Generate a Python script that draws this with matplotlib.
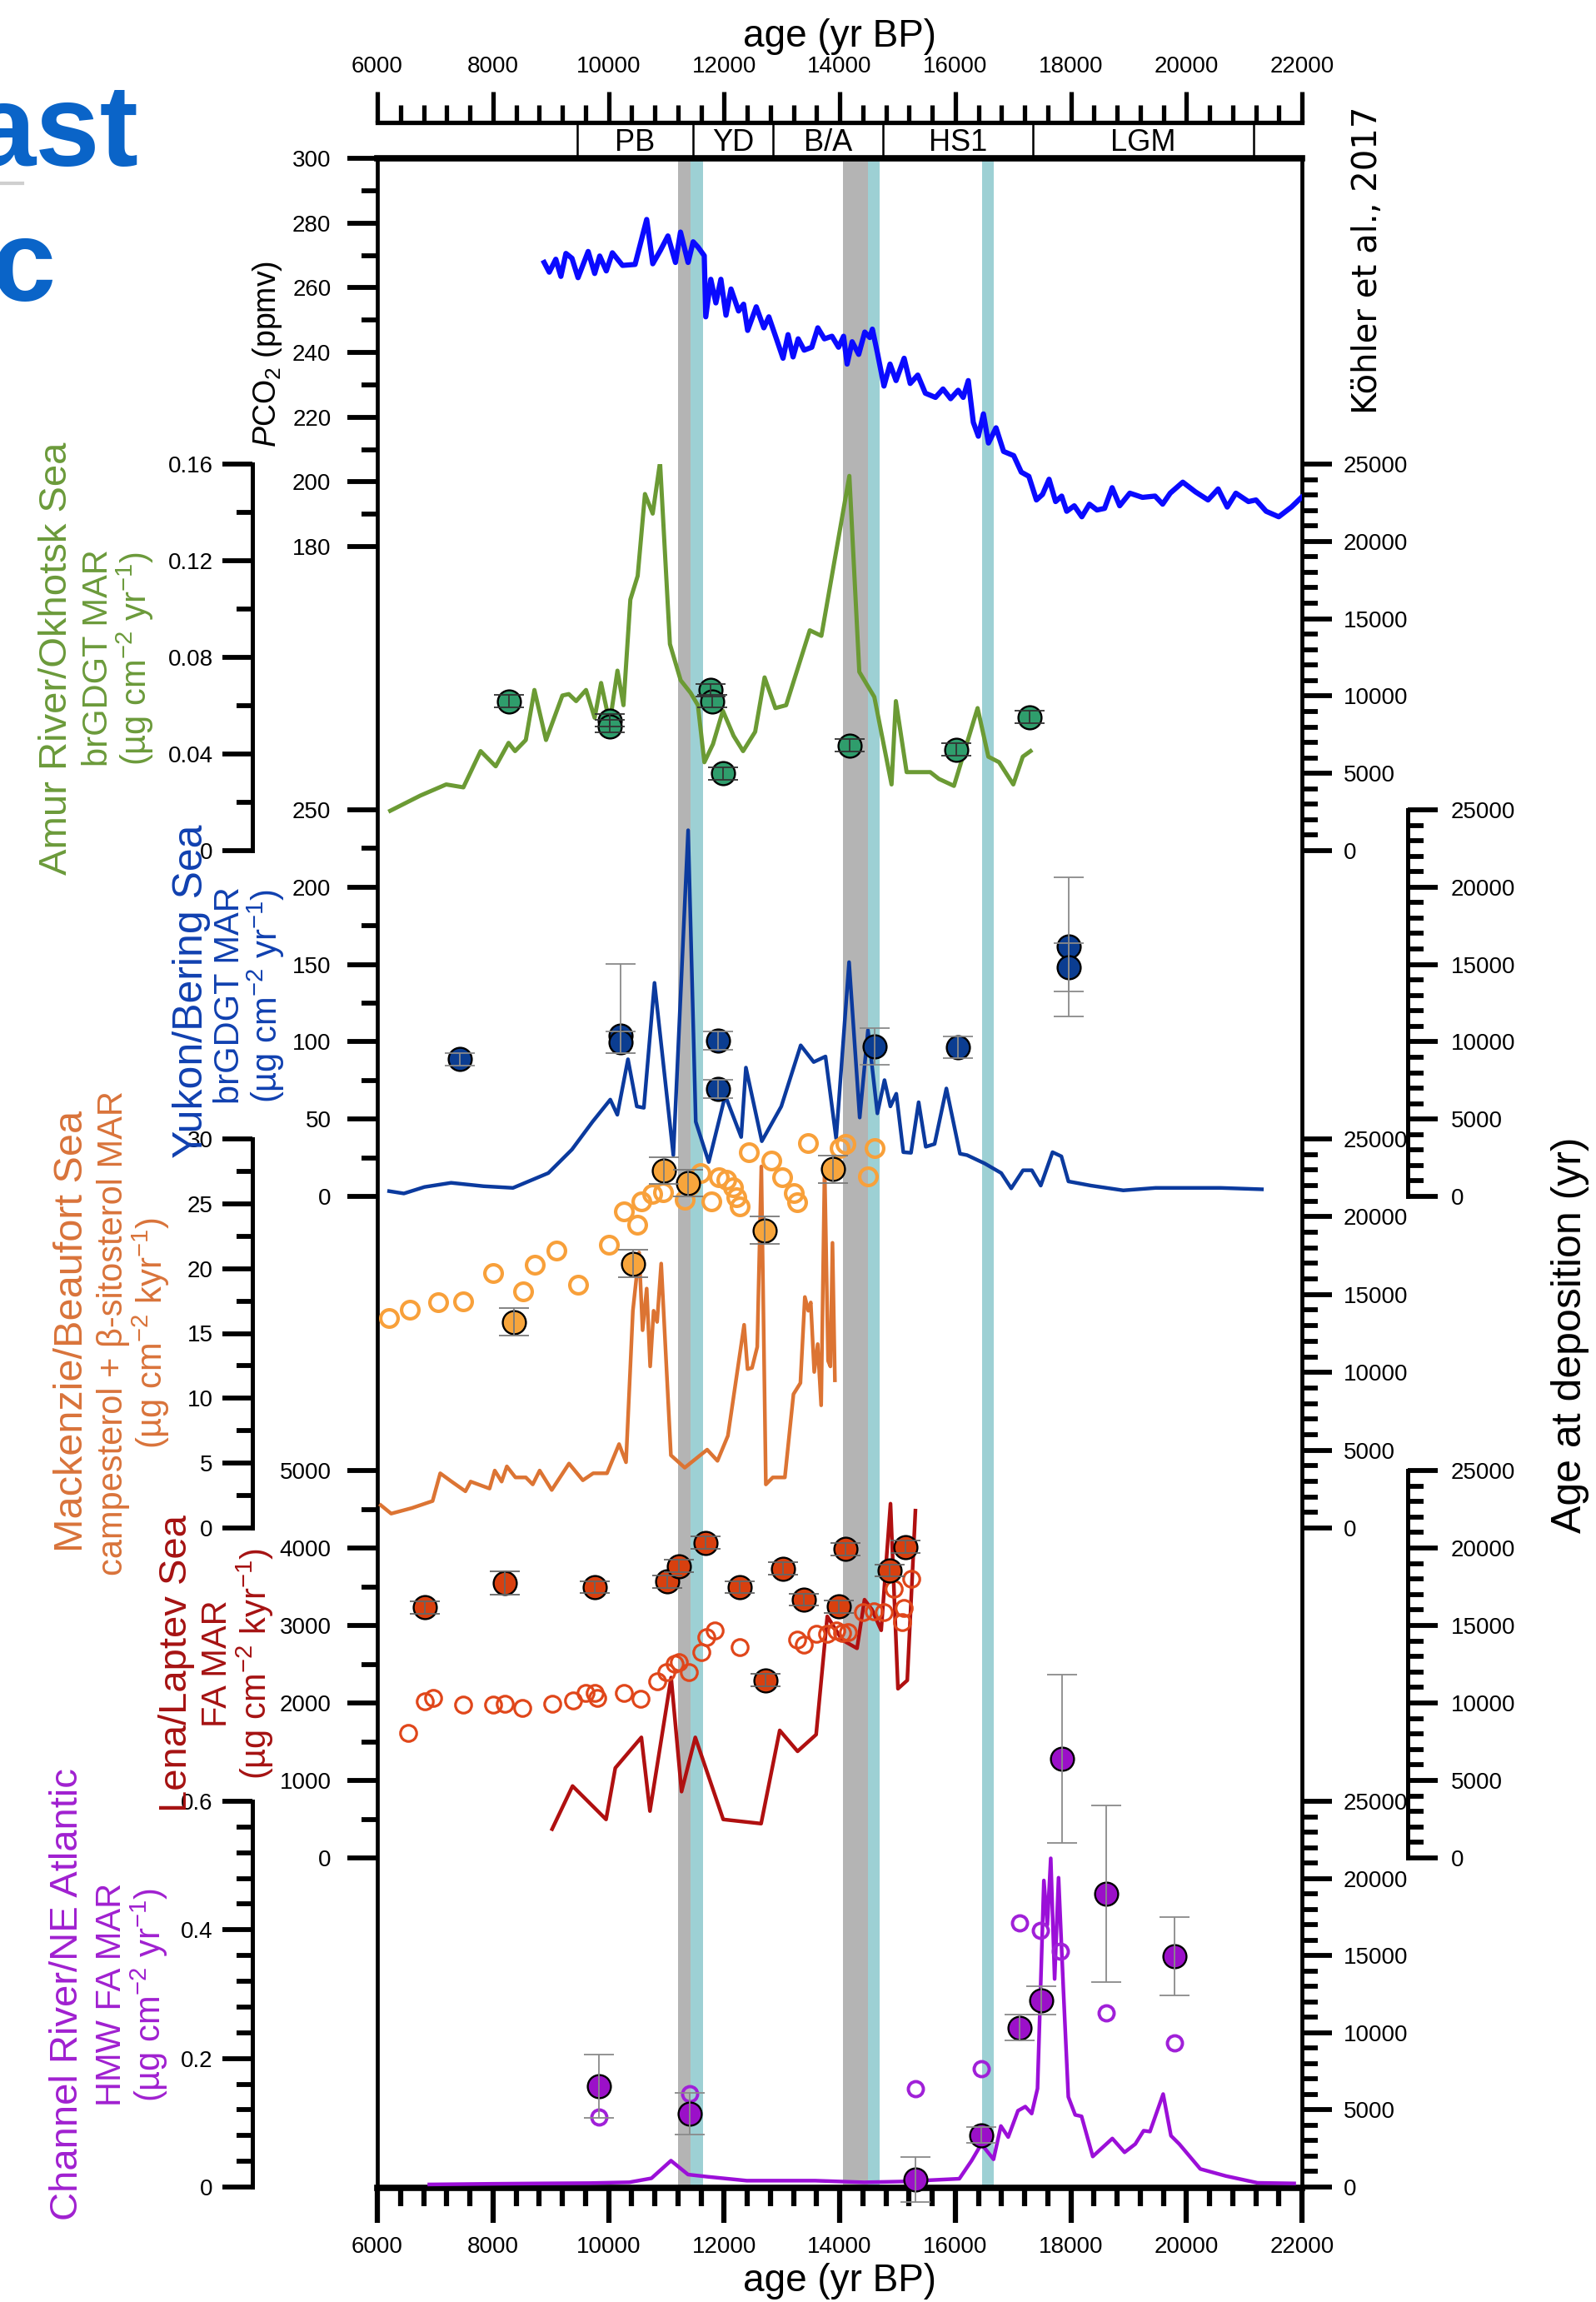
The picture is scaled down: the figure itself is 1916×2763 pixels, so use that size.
import matplotlib
matplotlib.use("Agg")
import matplotlib.pyplot as plt
from matplotlib.ticker import MultipleLocator, FuncFormatter

W, H, DPI = 1916, 2763, 100
X_LEFT, X_RIGHT = 453, 1563          # main frame in pixels
AGE_MIN, AGE_MAX = 6000, 22000

NARROW = ['Liberation Sans Narrow', 'Liberation Sans', 'DejaVu Sans']
SANS = ['Liberation Sans', 'DejaVu Sans']
plt.rcParams['font.family'] = NARROW
plt.rcParams['mathtext.fontset'] = 'custom'
plt.rcParams['mathtext.rm'] = 'Liberation Sans'
plt.rcParams['mathtext.it'] = 'Liberation Sans:italic'
plt.rcParams['mathtext.bf'] = 'Liberation Sans:bold'

# ---------------- data ----------------
gray_bands = [(11200, 11415), (14060, 14490)]
cyan_bands = [(11415, 11638), (14490, 14695), (16462, 16667)]
period_bounds = [9455, 11463, 12847, 14750, 17344, 21164]
period_names = ['PB', 'YD', 'B/A', 'HS1', 'LGM']

co2_age = [8887, 8975, 9088, 9176, 9263, 9368, 9473, 9648, 9761, 9848, 9962, 10067, 10242, 10460,
           10661, 10766, 10897, 11028, 11159, 11246, 11377, 11465, 11552, 11657, 11683, 11770, 11858,
           11945, 12033, 12120, 12251, 12338, 12408, 12557, 12688, 12775, 12906, 13020, 13107, 13194,
           13282, 13386, 13518, 13622, 13736, 13867, 13981, 14068, 14129, 14216, 14330, 14435, 14522,
           14566, 14653, 14767, 14872, 14976, 15116, 15221, 15352, 15483, 15658, 15789, 15920, 16051,
           16138, 16226, 16313, 16400, 16488, 16575, 16706, 16837, 17012, 17143, 17274, 17405, 17510,
           17624, 17737, 17842, 17929, 18060, 18191, 18322, 18453, 18585, 18715, 18846, 19021, 19240,
           19458, 19589, 19720, 19938, 20157, 20375, 20550, 20707, 20856, 21074, 21205, 21380, 21598,
           21817, 21991]
co2_ppm = [267.8, 264.8, 268.8, 263.5, 270.6, 269.1, 263.1, 271.2, 264.4, 269.8, 265.2, 270.8, 266.9,
           267.2, 281.1, 267.4, 271.5, 276.0, 267.8, 277.2, 267.8, 274.2, 272.5, 269.9, 251.0, 262.6,
           255.3, 262.6, 251.5, 259.6, 252.8, 254.9, 246.8, 254.1, 247.6, 251.0, 244.2, 238.2, 245.5,
           238.6, 244.2, 240.7, 241.6, 247.6, 244.2, 245.0, 241.6, 245.0, 236.4, 243.3, 239.4, 246.3,
           244.6, 247.2, 239.9, 229.6, 236.4, 231.3, 238.2, 230.4, 233.0, 227.4, 226.1, 228.7, 225.7,
           228.3, 226.1, 231.3, 218.4, 214.1, 221.0, 212.0, 216.7, 209.4, 208.1, 203.0, 201.7, 194.4,
           196.1, 200.8, 193.9, 195.6, 190.9, 192.6, 189.2, 193.1, 191.3, 191.8, 198.2, 192.6, 196.5,
           195.2, 195.6, 193.1, 196.5, 199.9, 196.9, 194.4, 197.8, 192.2, 196.5, 193.9, 194.4, 190.9,
           189.2, 192.2, 195.2]

amur_age = [6223, 6745, 7191, 7489, 7787, 8048, 8271, 8383, 8569, 8718, 8919, 9202, 9313, 9440, 9611,
            9760, 9872, 10021, 10155, 10259, 10378, 10505, 10631, 10765, 10892, 11063, 11249, 11421,
            11547, 11659, 11808, 11979, 12165, 12329, 12538, 12701, 12888, 13074, 13483, 13684, 14168,
            14340, 14600, 14898, 14973, 15159, 15568, 15717, 15978, 16387, 16573, 16759, 17005, 17169,
            17303]
amur_mar = [0.0165, 0.0228, 0.0274, 0.0262, 0.0412, 0.0349, 0.0446, 0.0412, 0.0458, 0.0665, 0.0458,
            0.0642, 0.0648, 0.0619, 0.0665, 0.0550, 0.0694, 0.0527, 0.0745, 0.0602, 0.1039, 0.1137,
            0.1476, 0.1395, 0.1608, 0.0855, 0.0705, 0.0653, 0.0602, 0.0366, 0.0441, 0.0579, 0.0475,
            0.0412, 0.0492, 0.0717, 0.0590, 0.0602, 0.0912, 0.0889, 0.1551, 0.0740, 0.0636, 0.0274,
            0.0619, 0.0325, 0.0325, 0.0297, 0.0268, 0.0590, 0.0389, 0.0366, 0.0274, 0.0389, 0.0412]
amur_pt_age = [8271, 10021, 10021, 11771, 11793, 11979, 14176, 16015, 17281]
amur_pt_dep = [9671, 8413, 8053, 10391, 9671, 4997, 6795, 6525, 8646]
amur_pt_err = [400, 400, 400, 400, 400, 400, 400, 400, 400]

yuk_age = [6204, 6459, 6816, 7276, 7837, 8347, 8959, 9367, 9724, 10031, 10153, 10337, 10490, 10612,
           10796, 11122, 11378, 11510, 11735, 12020, 12296, 12378, 12653, 12990, 13326, 13551, 13755,
           13939, 14163, 14347, 14490, 14653, 14776, 14878, 14980, 15102, 15235, 15367, 15490, 15643,
           15847, 16082, 16204, 16510, 16796, 16969, 17173, 17326, 17480, 17684, 17837, 17959, 18347,
           18908, 19469, 20592, 21306]
yuk_mar = [3.4, 1.9, 6.1, 8.8, 6.6, 5.5, 15.1, 30.3, 48.3, 62.6, 52.8, 88.7, 58.2, 57.3, 138.1, 26.7,
           236.8, 48.3, 22.2, 65.3, 38.4, 83.3, 35.7, 58.2, 97.7, 86.9, 90.5, 37.5, 151.5, 51.0, 107.5,
           53.7, 75.2, 58.2, 66.4, 28.6, 28.2, 60.9, 32.1, 33.9, 69.8, 27.6, 26.7, 21.3, 15.1, 5.2, 16.9,
           16.9, 7.0, 28.6, 25.9, 9.7, 7.0, 3.9, 5.5, 5.5, 4.6]
yuk_pt_age = [7429, 10204, 10204, 11898, 11898, 14602, 16051, 17970, 17970]
yuk_pt_dep = [8868, 10398, 9946, 10073, 6949, 9675, 9643, 16140, 14793]
yuk_err_lo = [400, 1130, 700, 600, 600, 1155, 700, 4490, 1560]
yuk_err_hi = [400, 4610, 700, 600, 600, 1235, 700, 4490, 1560]

mac_age = [6060, 6239, 6598, 6956, 7088, 7285, 7524, 7614, 7942, 8032, 8151, 8241, 8390, 8570, 8689,
           8809, 9018, 9317, 9556, 9735, 9974, 10183, 10303, 10422, 10530, 10590, 10661, 10721, 10781,
           10841, 10912, 11080, 11319, 11707, 11886, 12066, 12347, 12406, 12484, 12574, 12645, 12723,
           12843, 13052, 13201, 13321, 13398, 13458, 13500, 13560, 13620, 13680, 13740, 13800, 13840,
           13876, 13918]
mac_mar = [1.76, 1.11, 1.54, 2.08, 4.22, 3.58, 2.83, 3.58, 3.04, 4.43, 3.58, 4.75, 3.90, 3.90, 3.36,
           4.43, 2.93, 4.97, 3.68, 4.22, 4.22, 6.47, 5.07, 16.75, 21.24, 15.25, 18.46, 12.46, 16.75,
           15.89, 20.39, 5.61, 4.65, 6.04, 5.18, 7.11, 15.67, 12.25, 12.35, 13.96, 27.88, 3.36, 3.90,
           3.90, 10.32, 11.18, 17.81, 16.75, 17.39, 12.03, 14.18, 9.46, 27.88, 12.89, 12.46, 21.99, 11.39]
mac_pt_age = [8360, 10422, 10960, 11378, 12705, 13888]
mac_pt_dep = [13238, 16985, 22964, 22161, 19127, 23054]
mac_pt_err = [880, 880, 880, 880, 880, 880]
mac_open_age = [6209, 6568, 7046, 7482, 8002, 8522, 8719, 9096, 9478, 10004, 10273, 10494, 10572,
                10751, 10948, 11319, 11408, 11588, 11785, 11916, 12036, 12155, 12215, 12275, 12424,
                12813, 13004, 13201, 13261, 13458, 13996, 14098, 14606, 14486]
mac_open_dep = [13507, 14042, 14488, 14578, 16363, 15203, 16897, 17843, 15646, 18200, 20341, 19485,
                21002, 21447, 21590, 21091, 21982, 22786, 21002, 22518, 22376, 21894, 21270, 20644,
                24125, 23589, 22554, 21537, 20912, 24749, 24392, 24660, 24392, 22608]

lena_age = [9024, 9378, 9958, 10118, 10569, 10717, 11084, 11264, 11502, 11985, 12641, 12963, 13272,
            13593, 13786, 14044, 14301, 14430, 14558, 14719, 14880, 15009, 15170, 15311]
lena_mar = [372, 928, 497, 1161, 1556, 605, 2328, 856, 1556, 497, 443, 1646, 1376, 1592, 3118, 2813,
            2705, 3333, 3207, 2938, 4572, 2184, 2292, 4482]
lena_pt_age = [6824, 8201, 9764, 11019, 11212, 11676, 12274, 12712, 13014, 13381, 13979, 14108,
               14861, 15138]
lena_pt_dep = [16165, 17744, 17474, 17835, 18821, 20345, 17474, 11459, 18675, 16667, 16219, 19935,
               18551, 20075]
lena_pt_err = [400, 750, 400, 400, 400, 400, 400, 400, 400, 400, 400, 400, 400, 400]
lena_open_age = [6528, 6824, 6965, 7480, 8008, 8201, 8510, 9024, 9391, 9604, 9764, 9810, 10260,
                 10556, 10839, 11006, 11148, 11225, 11393, 11611, 11695, 11843, 12274, 13272, 13387,
                 13593, 13786, 13947, 14044, 14140, 14398, 14591, 14764, 14944, 15106, 15086, 15234]
lena_open_dep = [8051, 10113, 10296, 9882, 9882, 9935, 9666, 9935, 10167, 10652, 10652, 10296, 10652,
                 10242, 11373, 11998, 12536, 12628, 11966, 13258, 14243, 14658, 13613, 14066, 13759,
                 14475, 14475, 14690, 14513, 14550, 15859, 15913, 15859, 17383, 16128, 15229, 18013]

ch_age = [6900, 8000, 8840, 9686, 10362, 10743, 11081, 11377, 11715, 12392, 13576, 14422, 15099,
          16071, 16283, 16452, 16663, 16790, 16917, 17086, 17213, 17323, 17424, 17534, 17594, 17653,
          17720, 17788, 17873, 17957, 18076, 18186, 18380, 18719, 18930, 19116, 19260, 19370, 19598,
          19733, 19877, 20241, 20681, 21231, 21865]
ch_mar = [0.004, 0.005, 0.0056, 0.0061, 0.0074, 0.0136, 0.0410, 0.0194, 0.0160, 0.0099, 0.0099,
          0.0073, 0.0086, 0.0129, 0.0410, 0.0669, 0.0431, 0.0949, 0.0777, 0.1187, 0.1251, 0.1143,
          0.1532, 0.4768, 0.4078, 0.5113, 0.3236, 0.4811, 0.3042, 0.1402, 0.1122, 0.1100, 0.0475,
          0.0755, 0.0540, 0.0669, 0.0876, 0.0863, 0.1446, 0.0798, 0.0669, 0.0281, 0.0172, 0.0065, 0.0056]
ch_pt_age = [9838, 11402, 15310, 16452, 17112, 17492, 17843, 18616, 19792]
ch_pt_dep = [6527, 4729, 485, 3362, 10338, 12101, 27757, 19006, 14978]
ch_pt_err = [2070, 1350, 1440, 500, 850, 900, 5450, 5730, 2540]
ch_open_age = [9838, 11402, 15310, 16452, 17112, 17467, 17822, 18616, 19792]
ch_open_dep = [4549, 6059, 6382, 7677, 17135, 16632, 15283, 11275, 9350]

# ---------------- layout helpers ----------------
fig = plt.figure(figsize=(W / DPI, H / DPI), dpi=DPI)
OUT_L = (303 - X_LEFT) / (X_RIGHT - X_LEFT)
OUT_R = (1690 - X_LEFT) / (X_RIGHT - X_LEFT)
TICK_W = 4.2


def box(top, bottom):
    return [X_LEFT / W, 1 - bottom / H, (X_RIGHT - X_LEFT) / W, (bottom - top) / H]


def fmt_g(v, p):
    return '%g' % round(v, 4)


def panel(top, bottom, lo, hi, major, minor, outer):
    a = fig.add_axes(box(top, bottom))
    a.set_xlim(AGE_MIN, AGE_MAX)
    a.set_ylim(lo, hi)
    a.patch.set_visible(False)
    for s in ['top', 'bottom', 'right']:
        a.spines[s].set_visible(False)
    if outer:
        a.spines['left'].set_position(('axes', OUT_L))
        a.spines['left'].set_linewidth(3.6)
    else:
        a.spines['left'].set_visible(False)
    a.tick_params(axis='x', which='both', bottom=False, labelbottom=False)
    a.yaxis.set_major_locator(MultipleLocator(major))
    a.yaxis.set_minor_locator(MultipleLocator(minor))
    a.yaxis.set_major_formatter(FuncFormatter(fmt_g))
    a.tick_params(axis='y', which='major', length=26, width=TICK_W, labelsize=20,
                  pad=8 if outer else 14)
    a.tick_params(axis='y', which='minor', length=14, width=TICK_W)
    return a


def age_axis(a, outer):
    r = a.twinx()
    r.set_ylim(0, 25000)
    r.patch.set_visible(False)
    for s in ['top', 'bottom', 'left']:
        r.spines[s].set_visible(False)
    if outer:
        r.spines['right'].set_position(('axes', OUT_R))
        r.spines['right'].set_linewidth(3.6)
    else:
        r.spines['right'].set_visible(False)
    r.yaxis.set_major_locator(MultipleLocator(5000))
    r.yaxis.set_minor_locator(MultipleLocator(1000))
    r.yaxis.set_major_formatter(FuncFormatter(fmt_g))
    r.tick_params(axis='y', which='major', length=26, width=TICK_W, labelsize=20,
                  pad=11 if outer else 10)
    r.tick_params(axis='y', which='minor', length=14, width=TICK_W)
    return r


def points(r, x, y, yerr, fill, ecol, ms=20):
    r.plot(x, y, 'o', ms=ms, mfc=fill, mec='k', mew=1.7, zorder=4, clip_on=False)
    r.errorbar(x, y, yerr=yerr, fmt='none', ecolor=ecol, elinewidth=1.3, capsize=13,
               capthick=1.3, zorder=5, clip_on=False)


def open_pts(r, x, y, col, ms, mew):
    r.plot(x, y, 'o', ms=ms, mfc='none', mec=col, mew=mew, zorder=3, clip_on=False)


# ---------------- main frame ----------------
ax = fig.add_axes(box(190, 2626))
ax.set_xlim(AGE_MIN, AGE_MAX)
ax.set_ylim(0, 1)
for a0, a1 in gray_bands:
    ax.axvspan(a0, a1, color='#b4b4b4', lw=0)
for a0, a1 in cyan_bands:
    ax.axvspan(a0, a1, color='#9dd0d4', lw=0)
ax.spines['top'].set_linewidth(5.5)
ax.spines['bottom'].set_linewidth(5.5)
ax.spines['left'].set_linewidth(3.4)
ax.spines['right'].set_linewidth(3.4)
ax.set_yticks([])
ax.xaxis.set_major_locator(MultipleLocator(2000))
ax.xaxis.set_minor_locator(MultipleLocator(400))
ax.tick_params(axis='x', which='major', length=30, width=4.5, labelsize=20, pad=12)
ax.tick_params(axis='x', which='minor', length=16, width=4.5)
ax.set_xlabel('age (yr BP)', fontsize=33, labelpad=4)

# top period bar
axt = fig.add_axes(box(147, 190))
axt.set_xlim(AGE_MIN, AGE_MAX)
axt.set_ylim(0, 1)
axt.patch.set_visible(False)
for s in ['left', 'right', 'bottom']:
    axt.spines[s].set_visible(False)
axt.spines['top'].set_linewidth(3.8)
axt.set_yticks([])
axt.xaxis.tick_top()
axt.xaxis.set_label_position('top')
axt.xaxis.set_major_locator(MultipleLocator(2000))
axt.xaxis.set_minor_locator(MultipleLocator(400))
axt.tick_params(axis='x', which='major', length=27, width=3.8, labelsize=20, pad=12)
axt.tick_params(axis='x', which='minor', length=15, width=3.8)
axt.set_xlabel('age (yr BP)', fontsize=33, labelpad=8)
for b in period_bounds:
    axt.axvline(b, color='k', lw=1.8)
for i, name in enumerate(period_names):
    axt.text((period_bounds[i] + period_bounds[i + 1]) / 2, 0.42, name, ha='center', va='center',
             fontsize=26)

# ---------------- panels ----------------
# PCO2
a = panel(190, 656, 180, 300, 20, 10, outer=False)
a.plot(co2_age, co2_ppm, color='#0a0aff', lw=4.5, zorder=2)

# Amur River / Okhotsk Sea
a = panel(557, 1021, 0, 0.16, 0.04, 0.02, outer=True)
a.plot(amur_age, amur_mar, color='#6b9a34', lw=3.6, zorder=2)
r = age_axis(a, outer=False)
points(r, amur_pt_age, amur_pt_dep, amur_pt_err, '#2f9d6c', '#333333')

# Yukon / Bering Sea
a = panel(972, 1436, 0, 250, 50, 25, outer=False)
a.plot(yuk_age, yuk_mar, color='#0b3a9e', lw=3.2, zorder=2)
r = age_axis(a, outer=True)
points(r, yuk_pt_age, yuk_pt_dep, [yuk_err_lo, yuk_err_hi], '#0b3d91', '#8a8a8a')

# Mackenzie / Beaufort Sea
a = panel(1367, 1834, 0, 30, 5, 2.5, outer=True)
a.plot(mac_age, mac_mar, color='#dc7433', lw=3.2, zorder=2)
r = age_axis(a, outer=False)
open_pts(r, mac_open_age, mac_open_dep, '#f8a03a', 15, 3)
points(r, mac_pt_age, mac_pt_dep, mac_pt_err, '#f7a53c', '#7a7a7a')

# Lena / Laptev Sea
a = panel(1765, 2230, 0, 5000, 1000, 500, outer=False)
a.plot(lena_age, lena_mar, color='#b01010', lw=3.2, zorder=2)
r = age_axis(a, outer=True)
open_pts(r, lena_open_age, lena_open_dep, '#e0461a', 14, 2.3)
points(r, lena_pt_age, lena_pt_dep, lena_pt_err, '#d8400f', '#666666')

# Channel River / NE Atlantic
a = panel(2162, 2625, 0, 0.6, 0.2, 0.04, outer=True)
a.plot(ch_age, ch_mar, color='#9b0fd8', lw=3.2, zorder=2)
r = age_axis(a, outer=False)
open_pts(r, ch_open_age, ch_open_dep, '#a020d8', 13, 2.8)
points(r, ch_pt_age, ch_pt_dep, ch_pt_err, '#9b10c8', '#8a8a8a')

# ---------------- labels ----------------
def vlabel(x, y, s, color, size):
    fig.text(x / W, 1 - y / H, s, rotation=90, ha='center', va='center', color=color,
             fontsize=size, family=SANS)


unit_yr = '(\u00b5g cm$^{-2}$ yr$^{-1}$)'
unit_kyr = '(\u00b5g cm$^{-2}$ kyr$^{-1}$)'
green, blue, orange, red, purple = '#6b9a3a', '#1040b0', '#d9733a', '#a51212', '#a020d0'
vlabel(68, 790, 'Amur River/Okhotsk Sea', green, 34)
vlabel(118, 790, 'brGDGT MAR', green, 30)
vlabel(162, 790, unit_yr, green, 30)
vlabel(230, 1190, 'Yukon/Bering Sea', blue, 36)
vlabel(276, 1195, 'brGDGT MAR', blue, 30)
vlabel(319, 1195, unit_yr, blue, 30)
vlabel(87, 1598, 'Mackenzie/Beaufort Sea', orange, 35)
vlabel(136, 1600, 'campesterol + \u03b2-sitosterol MAR', orange, 30)
vlabel(181, 1600, unit_kyr, orange, 30)
vlabel(212, 1997, 'Lena/Laptev Sea', red, 34)
vlabel(261, 1997, 'FA MAR', red, 30)
vlabel(306, 1997, unit_kyr, red, 30)
vlabel(81, 2394, 'Channel River/NE Atlantic', purple, 34)
vlabel(134, 2394, 'HMW FA MAR', purple, 30)
vlabel(179, 2394, unit_yr, purple, 30)
vlabel(321, 425, '$P$CO$_2$ (ppmv)', 'black', 27)
fig.text(1642 / W, 1 - 312 / H, 'K\u00f6hler et al., 2017', rotation=90, ha='center', va='center',
         fontsize=29, family=['DejaVu Sans'])
vlabel(1885, 1602, 'Age at deposition (yr)', 'black', 36)

# slide fragments at top-left
fig.text(167 / W, 1 - 199 / H, 'ast', ha='right', va='baseline', fontsize=100, weight='bold',
         color='#0a64c8')
fig.text(67 / W, 1 - 361 / H, 'c', ha='right', va='baseline', fontsize=100, weight='bold',
         color='#0a64c8')
fig.add_artist(plt.Line2D([0, 27 / W], [1 - 220 / H, 1 - 220 / H], color='#cfcfcf', lw=3))

fig.savefig('out.png', dpi=DPI)
